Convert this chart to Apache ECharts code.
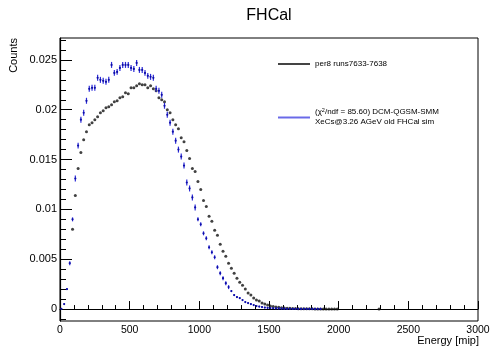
<!DOCTYPE html>
<html>
<head>
<meta charset="utf-8">
<script src="https://cdn.jsdelivr.net/npm/echarts@6/dist/echarts.min.js"></script>
<style>
  html, body { margin: 0; padding: 0; background: #fff; }
  #chart { width: 494px; height: 349px; }
</style>
</head>
<body>
<div id="chart"></div>
<script>
// bin centres, 20 mip bins from 0 to 2000
var energy = [
  10, 30, 50, 70, 90, 110, 130, 150, 170, 190,
  210, 230, 250, 270, 290, 310, 330, 350, 370, 390,
  410, 430, 450, 470, 490, 510, 530, 550, 570, 590,
  610, 630, 650, 670, 690, 710, 730, 750, 770, 790,
  810, 830, 850, 870, 890, 910, 930, 950, 970, 990,
  1010, 1030, 1050, 1070, 1090, 1110, 1130, 1150, 1170, 1190,
  1210, 1230, 1250, 1270, 1290, 1310, 1330, 1350, 1370, 1390,
  1410, 1430, 1450, 1470, 1490, 1510, 1530, 1550, 1570, 1590,
  1610, 1630, 1650, 1670, 1690, 1710, 1730, 1750, 1770, 1790,
  1810, 1830, 1850, 1870, 1890, 1910, 1930, 1950, 1970, 1990
];

// per8 runs7633-7638 (data)
var dataCounts = [
  null, null, null, null, 0.0080, 0.0114, 0.0141, 0.0157, 0.0170, 0.0178,
  0.0185, 0.0187, 0.0190, 0.0193, 0.0197, 0.0199, 0.0202, 0.0203, 0.0205, 0.0208,
  0.0209, 0.0212, 0.0213, 0.0217, 0.0216, 0.0222, 0.0222, 0.0224, 0.0226, 0.0225,
  0.0225, 0.0222, 0.0224, 0.0221, 0.0219, 0.0212, 0.0210, 0.0208, 0.0200, 0.0197,
  0.0190, 0.0185, 0.0181, 0.0172, 0.0168, 0.0159, 0.0151, 0.0141, 0.0138, 0.0128,
  0.0120, 0.0109, 0.0103, 0.0093, 0.0088, 0.0079, 0.0074, 0.0065, 0.0058, 0.0053,
  0.0046, 0.0041, 0.0036, 0.0031, 0.0027, 0.0024, 0.0020, 0.0016, 0.0014, 0.0011,
  0.0009, 0.0008, 0.0006, 0.0005, 0.0004, 0.00030, 0.00025, 0.00021, 0.00017, 0.00014,
  0.00011, 0.00009, 0.00007, 0.00006, 0.00005, 0.00004, 0.00003, 0.00003, 0.00002, 0.00002,
  0.00002, 0.00001, 0.00001, 0.00001, 0.00001, 0.00001, 0.00001, 0.00001, 0.00001, 0.00001
];
// lone data bin far out in the tail
var dataExtraE = [2290];
var dataExtraCounts = [0.00001];

// DCM-QGSM-SMM simulation
var simCounts = [
  0.00003, 0.0005, 0.0020, 0.0046, 0.0090, 0.0131, 0.0164, 0.0190, 0.0197, 0.0209,
  0.0221, 0.0222, 0.0222, 0.0232, 0.0230, 0.0229, 0.0228, 0.0230, 0.0245, 0.0237,
  0.0238, 0.0242, 0.0245, 0.0245, 0.0245, 0.0242, 0.0241, 0.0247, 0.0240, 0.0240,
  0.0237, 0.0234, 0.0233, 0.0232, 0.0221, 0.0219, 0.0215, 0.0204, 0.0195, 0.0187,
  0.0178, 0.0169, 0.0160, 0.0153, 0.0144, 0.0127, 0.0121, 0.0112, 0.0102, 0.0090,
  0.0085, 0.0076, 0.0071, 0.0062, 0.0057, 0.0052, 0.0042, 0.0036, 0.0031, 0.0026,
  0.0022, 0.0018, 0.0014, 0.0012, 0.0011, 0.0009, 0.0007, 0.0006, 0.0005, 0.0004,
  0.0003, 0.00025, 0.0002, 0.00015, 0.00012, 0.00010, 0.00008, 0.00007, 0.00006, 0.00005,
  0.00004, 0.00003, 0.00003, 0.00002, 0.00002, 0.00002, 0.00001, 0.00001, 0.00001, 0.00001,
  0.00001, 0.00001, 0.00001, 0.00001, null, null, null, null, null, null
];

var yMajor = [0, 0.005, 0.01, 0.015, 0.02, 0.025];
var yMinor = [-0.001, 0, 0.001, 0.002, 0.003, 0.004, 0.005, 0.006, 0.007, 0.008, 0.009,
  0.01, 0.011, 0.012, 0.013, 0.014, 0.015, 0.016, 0.017, 0.018, 0.019,
  0.02, 0.021, 0.022, 0.023, 0.024, 0.025, 0.026, 0.027];

var chart = echarts.init(document.getElementById('chart'));
var font = '"Liberation Sans", Arial, Helvetica, sans-serif';

var dataPts = [];
energy.forEach(function (e, i) {
  if (dataCounts[i] != null) dataPts.push([e, dataCounts[i]]);
});
dataExtraE.forEach(function (e, i) { dataPts.push([e, dataExtraCounts[i]]); });

var simPts = [];
energy.forEach(function (e, i) {
  if (simCounts[i] != null) simPts.push([e, simCounts[i]]);
});

// vertical error bar + small dot
function drawErr(params, api) {
  var x = api.value(0), v = api.value(1);
  var err = v > 0.01 ? 0.0003 : (v > 0.002 ? 0.0002 : 0.00008);
  var p = api.coord([x, v]);
  var t = api.coord([x, v + err]);
  var b = api.coord([x, v - err]);
  return {
    type: 'group',
    children: [
      { type: 'line', shape: { x1: p[0], y1: t[1], x2: p[0], y2: b[1] },
        style: { stroke: '#2a2ad8', lineWidth: 1.2 } },
      { type: 'circle', shape: { cx: p[0], cy: p[1], r: 1.1 },
        style: { fill: '#0d0da8' } }
    ]
  };
}

var option = {
  animation: false,
  backgroundColor: '#fff',
  grid: { left: 60, right: 16, top: 38, bottom: 28, show: true,
    borderColor: '#000', borderWidth: 1, backgroundColor: 'transparent' },
  xAxis: {
    type: 'value', min: 0, max: 3000, interval: 500,
    axisLine: { lineStyle: { color: '#000', width: 1.2 } },
    axisTick: { inside: true, length: 8, lineStyle: { color: '#000' } },
    minorTick: { show: true, splitNumber: 5, length: 4, lineStyle: { color: '#000' } },
    splitLine: { show: false },
    axisLabel: { color: '#000', fontSize: 10.5, fontFamily: font, margin: 4,
      showMinLabel: true, showMaxLabel: true,
      formatter: function (v) { return String(v); } }
  },
  yAxis: [{
    type: 'value', min: -0.0012, max: 0.0272,
    axisLine: { lineStyle: { color: '#000', width: 1.2 } },
    axisTick: { inside: true, length: 12, customValues: yMajor, lineStyle: { color: '#000' } },
    splitLine: { show: false },
    axisLabel: { color: '#000', fontSize: 11, fontFamily: font, margin: 3, customValues: yMajor }
  }, {
    type: 'value', min: -0.0012, max: 0.0272, position: 'left',
    axisLine: { show: false },
    axisTick: { inside: true, length: 6, customValues: yMinor, lineStyle: { color: '#000' } },
    splitLine: { show: false },
    axisLabel: { show: false }
  }],
  graphic: [
    { type: 'text', x: 269, y: 16, style: { text: 'FHCal', fontSize: 16, fontFamily: font,
      fill: '#000', textAlign: 'center', textVerticalAlign: 'middle' } },
    { type: 'text', x: 14, y: 38, rotation: Math.PI / 2, style: { text: 'Counts', fontSize: 11,
      fontFamily: font, fill: '#000', textAlign: 'right', textVerticalAlign: 'middle' } },
    { type: 'text', x: 479, y: 341, style: { text: 'Energy [mip]', fontSize: 11, fontFamily: font,
      fill: '#000', textAlign: 'right', textVerticalAlign: 'middle' } },
    // legend
    { type: 'line', shape: { x1: 278, y1: 64, x2: 310, y2: 64 },
      style: { stroke: '#444', lineWidth: 2 } },
    { type: 'text', x: 315, y: 64, style: { text: 'per8 runs7633-7638', fontSize: 8,
      fontFamily: font, fill: '#000', textVerticalAlign: 'middle' } },
    { type: 'line', shape: { x1: 278, y1: 117.5, x2: 310, y2: 117.5 },
      style: { stroke: '#6a6ae8', lineWidth: 2 } },
    { type: 'text', x: 315, y: 112, style: {
      text: '(\u03c7{sup|2}/ndf = 85.60) DCM-QGSM-SMM', fontSize: 8, fontFamily: font,
      fill: '#000', textVerticalAlign: 'middle',
      rich: { sup: { fontSize: 5.5, fontFamily: font, fill: '#000', padding: [0, 0, 4, 0] } } } },
    { type: 'text', x: 315, y: 122, style: { text: 'XeCs@3.26 AGeV old FHCal sim', fontSize: 8,
      fontFamily: font, fill: '#000', textVerticalAlign: 'middle' } }
  ],
  series: [{
    name: 'per8 runs7633-7638',
    type: 'scatter',
    data: dataPts,
    symbol: 'circle',
    symbolSize: 3,
    itemStyle: { color: '#111' },
    z: 3
  }, {
    name: 'DCM-QGSM-SMM',
    type: 'custom',
    data: simPts,
    renderItem: drawErr,
    z: 4
  }]
};

chart.setOption(option);
</script>
</body>
</html>
